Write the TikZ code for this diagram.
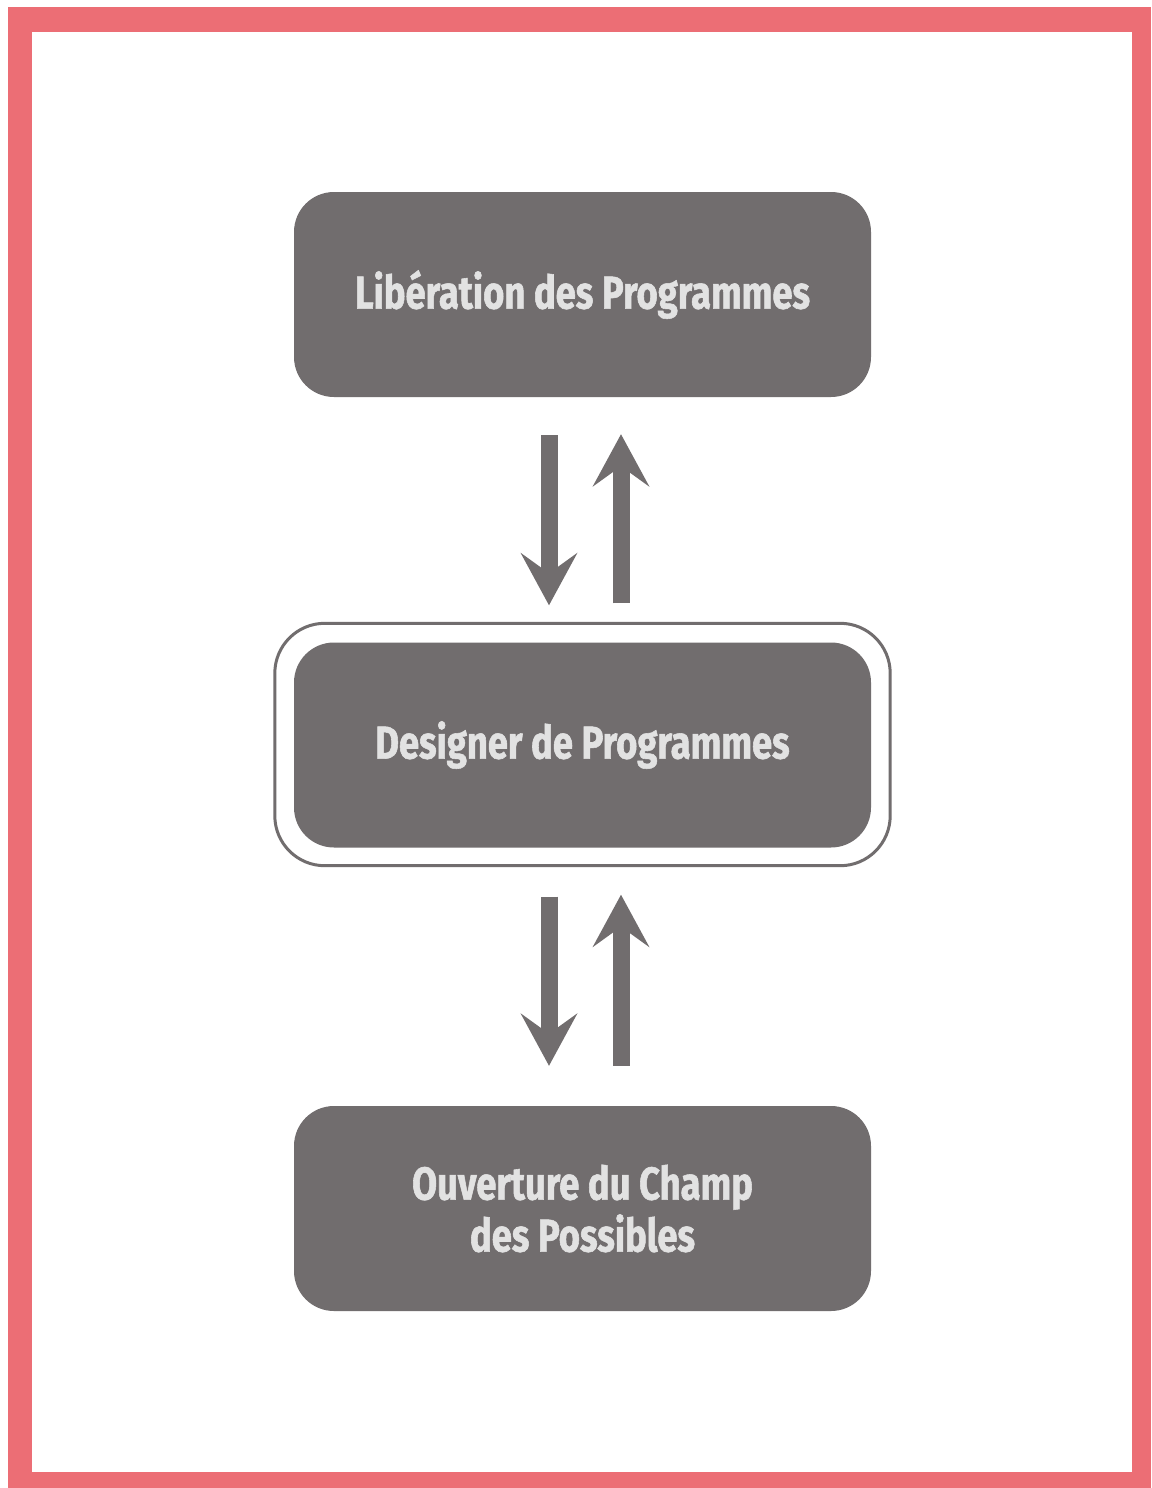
\documentclass[tikz,border=0pt]{standalone}
\usepackage{fontspec}
\setmainfont{Fira Sans}[FakeStretch=0.79,BoldFeatures={FakeBold=1.2}]
\usepackage{xcolor}
\definecolor{rahmen}{RGB}{236,110,117}
\definecolor{grau}{RGB}{113,109,110}
\definecolor{hell}{RGB}{226,226,226}
\usetikzlibrary{calc}
\usetikzlibrary{arrows.meta}

\begin{document}
\begin{tikzpicture}[x=1pt,y=-1pt,line cap=butt]
	\tikzstyle{kasten}=[fill=grau,rounded corners=40pt,minimum width=577pt,minimum height=205pt,
		text=hell,align=center,font=\bfseries\fontsize{46}{52}\selectfont];
	\tikzstyle{ring}=[draw=grau,line width=3pt,rounded corners=50pt];
	\tikzstyle{fluss}=[draw=grau,line width=17pt,-{Stealth[length=52pt,width=56pt,inset=20pt]}];
%<--------------------------------------------------------------------------->%

	\useasboundingbox (0,0) rectangle (1151,1488);
	\fill[rahmen] (8,7) rectangle (1151,1488);
	\fill[white] (32,32) rectangle (1132,1472);
	\node[kasten] (lib) at (582.5,294.5) {Libération des Programmes};
	\node[kasten] (des) at (582.5,745) {Designer de Programmes};
	\node[kasten] (ouv) at (582.5,1208.5) {Ouverture du Champ\\des Possibles};
	\draw[ring] ($(des.south west)+(-19,18)$) rectangle ($(des.north east)+(19,-19)$);
	%% Pfeile
	\draw[fluss] ([xshift=-33.5pt,yshift=-38pt]lib.south) -- ([xshift=-33.5pt,yshift=37pt]des.north);
	\draw[fluss] ([xshift=38.5pt,yshift=39pt]des.north) -- ([xshift=38.5pt,yshift=-37pt]lib.south);
	\draw[fluss] ([xshift=-33.5pt,yshift=-49pt]des.south) -- ([xshift=-33.5pt,yshift=40pt]ouv.north);
	\draw[fluss] ([xshift=38.5pt,yshift=40pt]ouv.north) -- ([xshift=38.5pt,yshift=-47pt]des.south);
\end{tikzpicture}
\end{document}
